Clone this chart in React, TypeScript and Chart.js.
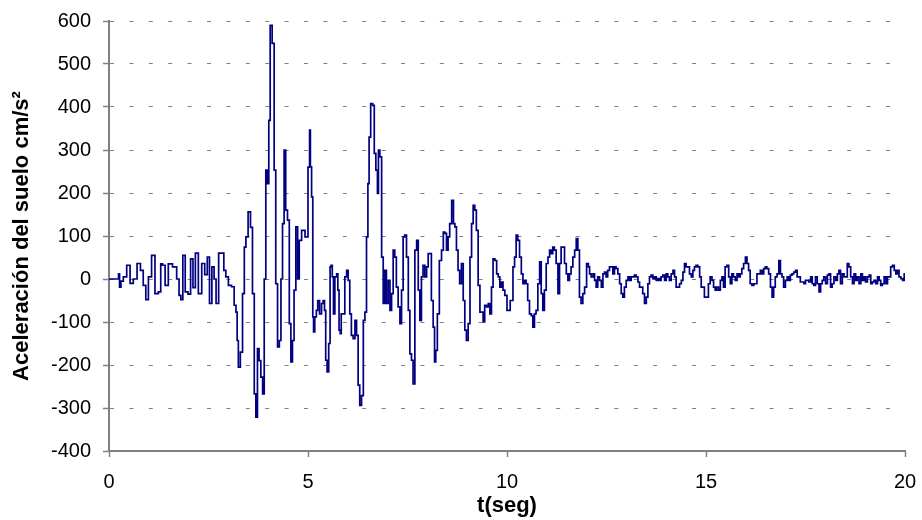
import React, { useEffect, useRef } from "react";
import { Chart, registerables } from "chart.js";
Chart.register(...registerables);

// Tiempo (s)
const tiempo = [
  0.0, 0.23, 0.25, 0.28, 0.32, 0.4, 0.49, 0.57, 0.65, 0.76, 0.82, 0.9, 0.95, 1.03, 1.11, 1.2, 1.28, 1.32, 1.37, 1.45,
  1.53, 1.66, 1.74, 1.78, 1.83, 1.88, 1.95, 2.02, 2.08, 2.14, 2.2, 2.29, 2.37, 2.44, 2.5, 2.55, 2.62, 2.66, 2.72, 2.79,
  2.86, 2.91, 2.96, 3.04, 3.12, 3.17, 3.21, 3.23, 3.27, 3.33, 3.38, 3.42, 3.46, 3.53, 3.58, 3.63, 3.67, 3.71, 3.75, 3.79,
  3.84, 3.88, 3.92, 3.96, 4.0, 4.03, 4.07, 4.13, 4.17, 4.21, 4.26, 4.3, 4.34, 4.38, 4.42, 4.46, 4.51, 4.55, 4.59, 4.63,
  4.67, 4.72, 4.76, 4.8, 4.88, 4.97, 5.03,
  5.05, 5.07, 5.11, 5.13, 5.15, 5.19, 5.23, 5.26, 5.32, 5.36, 5.4, 5.43, 5.46, 5.5, 5.54, 5.57, 5.59, 5.63, 5.65, 5.7,
  5.74, 5.76, 5.8, 5.82, 5.85, 5.9, 5.95, 5.99, 6.03, 6.07, 6.11, 6.16, 6.2, 6.24, 6.28, 6.32, 6.37, 6.41, 6.45, 6.49,
  6.52, 6.55, 6.6, 6.65, 6.68, 6.73, 6.76, 6.78, 6.83, 6.87, 6.91, 6.95, 6.99, 7.04, 7.08, 7.12, 7.16, 7.2, 7.24, 7.29,
  7.33, 7.37, 7.41, 7.45, 7.5, 7.54, 7.58, 7.62, 7.66, 7.71, 7.75, 7.79, 7.83, 7.87, 7.91, 7.96, 8.0, 8.04, 8.08, 8.12,
  8.17, 8.19, 8.23, 8.27, 8.33, 8.38, 8.42, 8.46, 8.5, 8.54, 8.58, 8.64, 8.67, 8.71, 8.75, 8.79, 8.83, 8.88, 8.92, 8.96,
  9.0, 9.05, 9.09, 9.13, 9.17, 9.21, 9.25, 9.3, 9.34, 9.38, 9.42, 9.46, 9.51, 9.55, 9.59, 9.63, 9.67, 9.72, 9.76, 9.8,
  9.84, 9.88, 9.92, 9.97, 10.03,
  10.13, 10.17, 10.21, 10.25, 10.29, 10.34, 10.38, 10.42, 10.46, 10.5, 10.54, 10.59, 10.63, 10.67, 10.71, 10.75, 10.8, 10.84, 10.88, 10.92,
  10.96, 11.01, 11.05, 11.09, 11.13, 11.17, 11.21, 11.26, 11.3, 11.34, 11.38, 11.42, 11.47, 11.51, 11.55, 11.59, 11.63, 11.68, 11.72, 11.76,
  11.8, 11.84, 11.88, 11.93, 11.97, 12.03, 12.06, 12.09, 12.14, 12.18, 12.22, 12.26, 12.3, 12.35, 12.39, 12.43, 12.47, 12.51, 12.55, 12.6,
  12.64, 12.68, 12.72, 12.76, 12.81, 12.85, 12.89, 12.93, 12.97, 13.02, 13.06, 13.1, 13.14, 13.18, 13.22, 13.27, 13.31, 13.35, 13.39, 13.43,
  13.48, 13.52, 13.56, 13.6, 13.64, 13.69, 13.73, 13.77, 13.81, 13.85, 13.89, 13.94, 13.98, 14.02, 14.06, 14.1, 14.15, 14.19, 14.23, 14.27,
  14.31, 14.36, 14.4, 14.44, 14.48, 14.52, 14.56, 14.61, 14.65, 14.69, 14.73, 14.77, 14.82, 14.86, 14.9, 14.94, 14.98,
  15.04, 15.08, 15.13, 15.17, 15.21, 15.25, 15.29, 15.34, 15.38, 15.42, 15.46, 15.5, 15.55, 15.59, 15.63, 15.67, 15.71, 15.76, 15.8, 15.84,
  15.88, 15.92, 15.97, 16.01, 16.05, 16.09, 16.13, 16.18, 16.22, 16.26, 16.3, 16.34, 16.39, 16.43, 16.47, 16.51, 16.55, 16.6, 16.64, 16.68,
  16.72, 16.76, 16.81, 16.85, 16.89, 16.93, 16.97, 17.02, 17.06, 17.1, 17.14, 17.18, 17.23, 17.27, 17.31, 17.35, 17.39, 17.44, 17.48, 17.52,
  17.56, 17.61, 17.65, 17.69, 17.73, 17.77, 17.82, 17.86, 17.9, 17.94, 17.98, 18.03, 18.07, 18.11, 18.15, 18.19, 18.24, 18.28, 18.32, 18.36,
  18.4, 18.45, 18.49, 18.53, 18.57, 18.61, 18.66, 18.7, 18.74, 18.78, 18.82, 18.87, 18.91, 18.95, 18.99, 19.03, 19.08, 19.12, 19.16, 19.2,
  19.24, 19.29, 19.33, 19.37, 19.41, 19.45, 19.5, 19.54, 19.58, 19.62, 19.66, 19.71, 19.75, 19.79, 19.83, 19.87, 19.92, 19.96, 20.0,
];

// Aceleración del suelo (cm/s²)
const aceleracion = [
  0, 0, 12, -19, -5, 5, 32, -10, 0, 36, 20, -15, -48, 5, 55, -34, -30, 35, 32, -15,
  35, 28, 0, -38, -48, 55, -30, -35, 47, -20, 60, -34, 36, 10, 51, -57, 28, 0, -57, 60,
  60, 20, 5, -15, -18, -61, -77, -143, -205, -170, -34, 74, 98, 156, 120, -34, -267, -321, -162, -190,
  -228, -267, 0, 253, 222, 369, 590, 548, 253, -11, -158, -143, 0, 129, 300, 160, 137, -104, -193, -143,
  -26, 121, 0, 90, 113, 98, 260,
  346, 261, 191, -88, -123, -88, -73, -50, -81, -57, -50, -73, -189, -216, -150, 28, 32, 5, -81, 5,
  12, -26, -119, -127, -81, -81, 5, 20, -3, -81, -131, -139, -96, -131, -247, -294, -271, -96, -77, 98,
  222, 330, 408, 404, 292, 253, 199, 300, 284, 51, -57, 20, -57, -3, -73, -34, 67, 51, -19, -65,
  -104, -26, 98, 102, 51, -73, -174, -189, -244, 67, 90, -26, -96, 5, 32, 5, 28, 59, 59, -50,
  -112, -193, -166, -81, 43, 67, 109, 106, 67, 98, 129, 183, 129, 121, 67, 20, -11, 36, -50, -119,
  -143, -104, 51, 129, 171, 160, 113, -15, -77, -77, -100, -61, -65, -57, -81, -19, 47, 43, 12, 5,
  -19, -7, -26, -38, -73,
  -50, 28, 51, 102, 90, 51, 12, -11, -3, -11, -50, -81, -85, -112, -81, -73, -11, 40, -34, -73,
  -26, 36, 51, 67, 59, 74, 67, 36, -34, 36, 74, 74, 36, 12, -3, 12, 28, 51, 67, 94,
  67, -42, -57, -34, -19, 36, 28, 12, 5, 12, -3, -19, 5, -3, -19, 12, 16, 5, 20, 28,
  28, 12, 28, 24, 12, -11, -34, -42, -19, -3, 5, -3, 5, 5, 9, 5, -7, -19, -19, -34,
  -57, -42, -11, 5, 9, 1, 5, -3, 1, -3, 5, 9, -3, 12, 5, -3, 12, 20, 5, -19,
  -19, -11, -3, 16, 36, 28, 28, 12, 5, 20, 28, 32, 28, 5, -19, -19, -42,
  -42, -11, 5, -3, -19, -26, -19, -26, -3, 5, -19, 28, 32, 5, -11, 12, 5, -3, 12, 5,
  12, 24, 36, 51, 36, 20, -11, -15, -11, -11, 12, 12, 20, 12, 24, 28, 24, 12, -19, -42,
  -19, 5, 12, 43, 12, 5, -19, -3, 5, -3, 9, 12, 16, 20, 5, 5, -7, -7, -11, -3,
  -3, -7, 5, -11, -15, 5, -11, -30, -11, -3, 5, -11, 9, 12, -19, -11, 5, -3, 12, 20,
  -11, 12, 5, 5, 36, 28, 5, -11, 12, -3, 5, -11, 12, -3, 5, -7, 5, 9, -11, -7,
  -3, -11, 5, -3, -15, -11, 5, -11, 5, 5, 28, 32, 20, 12, 20, 5, 1, -3, 12,
];

const xTicks = [0, 5, 10, 15, 20];
const yTicks = [-400, -300, -200, -100, 0, 100, 200, 300, 400, 500, 600];

const FONT = "'Liberation Sans', Arial, Helvetica, sans-serif";

export default function App() {
  const ref = useRef<HTMLCanvasElement | null>(null);

  useEffect(() => {
    if (!ref.current) return;
    const points = tiempo.map((t, i) => ({ x: t, y: aceleracion[i] }));
    const chart = new Chart(ref.current, {
      type: "line",
      data: {
        datasets: [
          {
            data: points,
            borderColor: "#000080",
            borderWidth: 1.7,
            pointRadius: 0,
            tension: 0,
            stepped: "middle",
            fill: false,
          },
        ],
      },
      options: {
        animation: false,
        responsive: false,
        maintainAspectRatio: false,
        layout: { padding: { left: 0, top: 21, right: 17, bottom: 0 } },
        plugins: { legend: { display: false }, tooltip: { enabled: false } },
        scales: {
          x: {
            type: "linear",
            min: xTicks[0],
            max: xTicks[xTicks.length - 1],
            afterBuildTicks: (s: any) => {
              s.ticks = xTicks.map((v) => ({ value: v }));
            },
            ticks: {
              color: "#000",
              font: { family: FONT, size: 20 },
              padding: 13,
              maxRotation: 0,
              autoSkip: false,
            },
            grid: {
              drawOnChartArea: false,
              drawTicks: true,
              tickLength: 6,
              tickColor: "#808080",
              tickWidth: 1.5,
            },
            border: { color: "#808080", width: 2 },
            title: {
              display: true,
              text: "t(seg)",
              color: "#000",
              font: { family: FONT, size: 22, weight: "bold" },
              padding: { top: 0, bottom: 1 },
            },
            afterFit: (s: any) => {
              s.height = 69;
              s.paddingLeft = 0;
              s.paddingRight = 0;
            },
          },
          y: {
            type: "linear",
            min: yTicks[0],
            max: yTicks[yTicks.length - 1],
            afterBuildTicks: (s: any) => {
              s.ticks = yTicks.map((v) => ({ value: v }));
            },
            ticks: {
              color: "#000",
              font: { family: FONT, size: 20 },
              padding: 12,
              autoSkip: false,
            },
            grid: {
              color: "#808080",
              lineWidth: 1,
              drawTicks: true,
              tickLength: 6,
              tickColor: "#808080",
              tickWidth: 1.5,
            },
            border: { color: "#808080", width: 2, dash: [4, 15.4] },
            title: {
              display: true,
              text: "Aceleración del suelo cm/s²",
              color: "#000",
              font: { family: FONT, size: 22, weight: "bold" },
              padding: { top: 9, bottom: 0 },
            },
            afterFit: (s: any) => {
              s.width = 109;
              s.paddingTop = 0;
              s.paddingBottom = 0;
            },
          },
        },
      },
    });
    return () => chart.destroy();
  }, []);

  return (
    <div style={{ position: "fixed", left: 0, top: 0, width: 922, height: 520, background: "#fff" }}>
      <canvas ref={ref} width={922} height={520} style={{ width: 922, height: 520, display: "block" }} />
    </div>
  );
}
